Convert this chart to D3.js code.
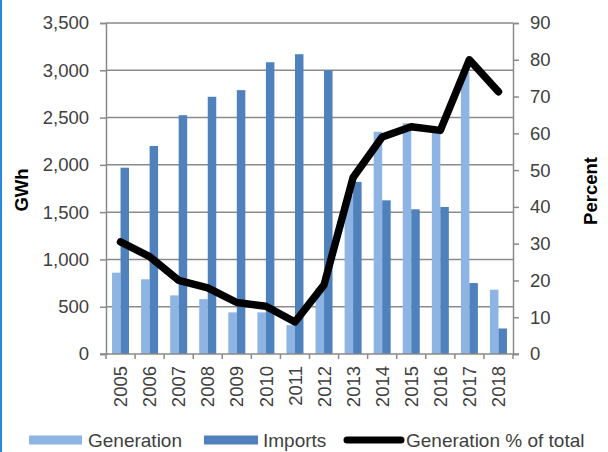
<!DOCTYPE html>
<html>
<head>
<meta charset="utf-8">
<script src="https://cdn.jsdelivr.net/npm/d3@7"></script>
<style>
  html, body { margin: 0; padding: 0; background: #fff; }
  svg { display: block; font-family: "Liberation Sans", Arial, sans-serif; }
</style>
</head>
<body>
<svg id="chart" width="608" height="452"></svg>
<script>
const years = ["2005","2006","2007","2008","2009","2010","2011","2012","2013","2014","2015","2016","2017","2018"];
const generation = [860, 790, 620, 580, 440, 440, 305, 700, 1680, 2350, 2440, 2370, 2980, 680];
const imports = [1970, 2200, 2525, 2720, 2790, 3085, 3170, 3000, 1820, 1625, 1530, 1555, 750, 270];
const genPercent = [30.5, 26.5, 20, 18, 14, 13, 8.7, 18.8, 48, 59, 61.8, 60.8, 80, 71.3];
const leftTicks = [0, 500, 1000, 1500, 2000, 2500, 3000, 3500];
const rightTicks = [0, 10, 20, 30, 40, 50, 60, 70, 80, 90];
const seriesNames = ["Generation", "Imports", "Generation % of total"];

const colGen = "#8db4e2", colImp = "#4f81bd", gridCol = "#8a8a8a", textCol = "#404040";
const svg = d3.select("#chart");
const L = 106, R = 513, T = 23, B = 354;

// left blue border
svg.append("rect").attr("x", 0).attr("y", 0).attr("width", 2).attr("height", 452).attr("fill", "#2a8ae0");

const x = d3.scaleBand().domain(years).range([L, R]).paddingInner(0).paddingOuter(0);
const yL = d3.scaleLinear().domain([0, 3500]).range([B, T]);
const yR = d3.scaleLinear().domain([0, 90]).range([B, T]);

// gridlines
svg.append("g").selectAll("line").data(leftTicks.filter(d => d > 0)).join("line")
  .attr("x1", L).attr("x2", R).attr("y1", d => yL(d)).attr("y2", d => yL(d))
  .attr("stroke", gridCol).attr("stroke-width", 1.5);

// bars
const bw = 8.5;
const g = svg.append("g");
g.selectAll(".gen").data(years).join("rect")
  .attr("x", d => x(d) + x.bandwidth() / 2 - bw)
  .attr("width", bw)
  .attr("y", (d, i) => yL(generation[i]))
  .attr("height", (d, i) => B - yL(generation[i]))
  .attr("fill", colGen);
g.selectAll(".imp").data(years).join("rect")
  .attr("x", d => x(d) + x.bandwidth() / 2)
  .attr("width", bw)
  .attr("y", (d, i) => yL(imports[i]))
  .attr("height", (d, i) => B - yL(imports[i]))
  .attr("fill", colImp);

// axes
const fs = "18.5px";
const axL = svg.append("g").attr("transform", `translate(${L},0)`)
  .call(d3.axisLeft(yL).tickValues(leftTicks).tickFormat(d3.format(",")).tickSize(6).tickPadding(11));
const axR = svg.append("g").attr("transform", `translate(${R},0)`)
  .call(d3.axisRight(yR).tickValues(rightTicks).tickSize(6).tickPadding(11));
const axB = svg.append("g").attr("transform", `translate(0,${B})`)
  .call(d3.axisBottom(x).tickSize(0).tickFormat(d => d));
// x ticks at category boundaries
const bounds = years.map(d => x(d)).concat([R]);
svg.append("g").selectAll("line").data(bounds).join("line")
  .attr("x1", d => d).attr("x2", d => d).attr("y1", B).attr("y2", B + 5)
  .attr("stroke", gridCol).attr("stroke-width", 1.5);
// extend x axis line to left tick
svg.append("line").attr("x1", L - 6).attr("x2", R + 6).attr("y1", B).attr("y2", B)
  .attr("stroke", gridCol).attr("stroke-width", 1.5);

[axL, axR, axB].forEach(a => {
  a.select(".domain").attr("stroke", gridCol).attr("stroke-width", 1.5);
  a.selectAll(".tick line").attr("stroke", gridCol).attr("stroke-width", 1.5);
  a.selectAll("text").attr("fill", textCol).style("font-size", fs).style("font-family", '"Liberation Sans", Arial, sans-serif');
});
axB.select(".domain").remove();
axB.selectAll("text")
  .attr("transform", "rotate(-90)")
  .attr("text-anchor", "end")
  .attr("x", -12).attr("y", 0).attr("dy", "0.36em");

// axis titles
svg.append("text").attr("transform", "translate(21,190) rotate(-90)")
  .attr("text-anchor", "middle").attr("dy", "0.36em")
  .style("font-size", "18.5px").style("font-weight", "bold").attr("fill", "#000").text("GWh");
svg.append("text").attr("transform", "translate(590,191) rotate(-90)")
  .attr("text-anchor", "middle").attr("dy", "0.36em")
  .style("font-size", "18.5px").style("font-weight", "bold").attr("fill", "#000").text("Percent");

// line
const line = d3.line()
  .x((d, i) => x(years[i]) + x.bandwidth() / 2)
  .y(d => yR(d));
svg.append("path").datum(genPercent).attr("d", line)
  .attr("fill", "none").attr("stroke", "#000").attr("stroke-width", 7.5)
  .attr("stroke-linejoin", "round").attr("stroke-linecap", "round");

// legend
const lg = svg.append("g");
const ly = 440;
lg.append("rect").attr("x", 29).attr("y", ly - 4.5).attr("width", 53).attr("height", 9).attr("fill", colGen);
lg.append("text").attr("x", 88).attr("y", ly).attr("dy", "0.36em").style("font-size", "19px").attr("fill", textCol).text(seriesNames[0]);
lg.append("rect").attr("x", 204).attr("y", ly - 4.5).attr("width", 54).attr("height", 9).attr("fill", colImp);
lg.append("text").attr("x", 263).attr("y", ly).attr("dy", "0.36em").style("font-size", "19px").attr("fill", textCol).text(seriesNames[1]);
lg.append("line").attr("x1", 347).attr("x2", 401).attr("y1", ly).attr("y2", ly)
  .attr("stroke", "#000").attr("stroke-width", 7).attr("stroke-linecap", "round");
lg.append("text").attr("x", 406).attr("y", ly).attr("dy", "0.36em").style("font-size", "19px").attr("fill", textCol).text(seriesNames[2]);
</script>
</body>
</html>
